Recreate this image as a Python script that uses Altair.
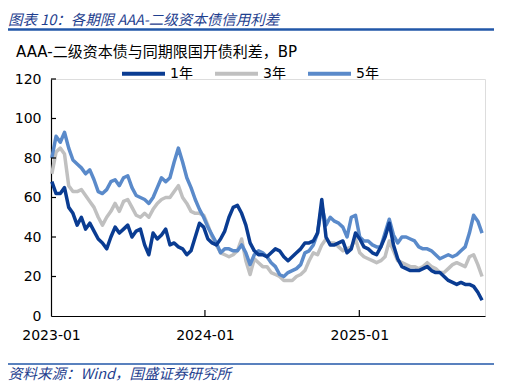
import altair as alt
import pandas as pd

# ---------------- data ----------------
dates = pd.date_range("2023-01-03", periods=103, freq="10D")

y1 = [68, 62, 62, 65, 55, 52, 46, 50, 44, 47, 43, 39, 37, 34, 40, 45, 42, 44, 46, 40,
      43, 44, 36, 31, 42, 39, 41, 44, 36, 37, 35, 34, 31, 33, 40, 47, 45, 39, 37, 36,
      39, 43, 50, 55, 56, 52, 46, 37, 33, 31, 31, 30, 32, 34, 33, 30, 28, 30, 32, 34,
      37, 37, 38, 42, 59, 40, 36, 36, 37, 38, 32, 34, 42, 39, 35, 34, 32, 31, 35, 40,
      47, 36, 29, 25, 24, 23, 23, 23, 24, 25, 23, 22, 22, 20, 18, 17, 16, 17, 16, 16,
      15, 12, 8]

y3 = [72, 83, 85, 82, 66, 63, 63, 64, 61, 58, 55, 50, 46, 50, 53, 57, 53, 58, 59, 55,
      51, 50, 52, 50, 54, 57, 59, 60, 60, 63, 66, 60, 57, 53, 52, 52, 51, 46, 40, 36,
      32, 31, 30, 31, 33, 39, 28, 21, 29, 27, 25, 25, 22, 21, 20, 18, 18, 18, 20, 21,
      23, 28, 32, 31, 36, 39, 37, 37, 35, 33, 34, 35, 39, 32, 30, 29, 28, 27, 28, 30,
      38, 33, 28, 27, 26, 25, 25, 24, 25, 27, 25, 24, 22, 22, 24, 26, 27, 26, 25, 30,
      31, 26, 20]

y5 = [80, 91, 88, 93, 85, 79, 77, 75, 72, 74, 69, 63, 62, 64, 68, 69, 66, 70, 71, 65,
      61, 60, 59, 57, 60, 65, 70, 68, 70, 78, 85, 78, 70, 65, 59, 54, 50, 45, 41, 37,
      32, 34, 34, 33, 33, 36, 32, 26, 31, 33, 32, 30, 27, 25, 21, 20, 22, 23, 24, 26,
      32, 33, 36, 42, 56, 46, 50, 48, 47, 45, 40, 50, 51, 40, 38, 38, 36, 35, 35, 42,
      49, 41, 37, 40, 40, 39, 38, 35, 34, 34, 33, 31, 29, 30, 31, 30, 31, 33, 35, 42,
      51, 48, 42]

series_names = ["1年", "3年", "5年"]
series_colors = ["#0A3C92", "#C0C0C0", "#5A8ACA"]
draw_order = ["3年", "5年", "1年"]

x_ticks = ["2023-01-01", "2024-01-01", "2025-01-01"]
y_ticks = [0, 20, 40, 60, 80, 100, 120]

title_text = "图表 10：各期限 AAA-二级资本债信用利差"
ytitle_text = "AAA-二级资本债与同期限国开债利差，BP"
source_text = "资料来源：Wind，国盛证券研究所"

# ---------------- build ----------------
n = len(dates)
df = pd.DataFrame({
    "date": list(dates) * 3,
    "value": y1 + y3 + y5,
    "series": [series_names[0]] * n + [series_names[1]] * n + [series_names[2]] * n,
})

W, H = 434, 237
FONT = "DejaVu Sans, Noto Sans CJK SC"
CJK = "Noto Sans CJK SC"

x_scale = alt.Scale(domain=["2023-01-01", "2025-10-26"])
y_scale = alt.Scale(domain=[0, 120], nice=False)

x_axis = alt.Axis(values=x_ticks, format="%Y-%m", labelFlush=False,
                  tickSize=0, labelPadding=12, grid=False, title=None,
                  labelFontSize=14, labelFont=FONT, labelColor="#000000",
                  domainColor="#000000", domainWidth=1.2, labelAngle=0)
y_axis = alt.Axis(values=y_ticks, tickSize=0, labelPadding=10, grid=False,
                  title=None, labelFontSize=14, labelFont=FONT,
                  labelColor="#000000", domainColor="#000000", domainWidth=1.2)

color = alt.Color(
    "series:N",
    scale=alt.Scale(domain=series_names, range=series_colors),
    legend=alt.Legend(
        orient="none", legendX=69, legendY=-29, direction="horizontal",
        title=None, symbolType="stroke", symbolSize=1849, symbolStrokeWidth=4,
        labelFontSize=14, labelFont=FONT, labelColor="#000000",
        columnPadding=14, labelOffset=3,
    ),
)

base = alt.Chart(df).mark_line(strokeWidth=3.5, strokeJoin="round").encode(
    x=alt.X("date:T", scale=x_scale, axis=x_axis),
    y=alt.Y("value:Q", scale=y_scale, axis=y_axis),
    color=color,
)
lines = [base.transform_filter(alt.datum.series == s) for s in draw_order]

ytick_layer = alt.Chart(pd.DataFrame({"value": y_ticks[1:]})).mark_rule(
    color="#000000", strokeWidth=1.2).encode(
    y=alt.Y("value:Q", scale=y_scale, axis=y_axis),
    x=alt.value(0), x2=alt.value(5))

xtick_layer = alt.Chart(pd.DataFrame({"date": x_ticks[1:]})).mark_rule(
    color="#000000", strokeWidth=1.2).encode(
    x=alt.X("date:T", scale=x_scale, axis=x_axis),
    y=alt.value(H), y2=alt.value(H - 6))

one = pd.DataFrame({"a": [0]})

title_layer = alt.Chart(pd.DataFrame({"t": [title_text]})).mark_text(
    align="left", baseline="alphabetic", fontSize=14.5, fontStyle="italic",
    font=CJK, color="#1F3F8F").encode(
    text="t:N", x=alt.value(-43), y=alt.value(-54))

title_rule = alt.Chart(one).mark_rule(color="#2257A8", strokeWidth=2.5).encode(
    x=alt.value(-43), x2=alt.value(443), y=alt.value(-49.5))

ytitle_layer = alt.Chart(pd.DataFrame({"t": [ytitle_text]})).mark_text(
    align="left", baseline="middle", fontSize=15, font=FONT,
    color="#000000").encode(
    text="t:N", x=alt.value(-35), y=alt.value(-27))

foot_rule = alt.Chart(one).mark_rule(color="#2257A8", strokeWidth=1.5).encode(
    x=alt.value(-43), x2=alt.value(443), y=alt.value(285))

source_layer = alt.Chart(pd.DataFrame({"t": [source_text]})).mark_text(
    align="left", baseline="alphabetic", fontSize=14.5, fontStyle="italic",
    font=CJK, color="#1F3F8F").encode(
    text="t:N", x=alt.value(-43), y=alt.value(300))

chart = alt.layer(
    *lines, ytick_layer, xtick_layer, title_layer, title_rule,
    ytitle_layer, foot_rule, source_layer,
).properties(
    width=W, height=H,
    autosize=alt.AutoSizeParams(type="none"),
    padding={"left": 43, "top": 71, "right": 17, "bottom": 66},
).configure_view(stroke=None).configure(background="#FFFFFF")

chart.save("out.html", embed_options={"renderer": "svg", "actions": False})
